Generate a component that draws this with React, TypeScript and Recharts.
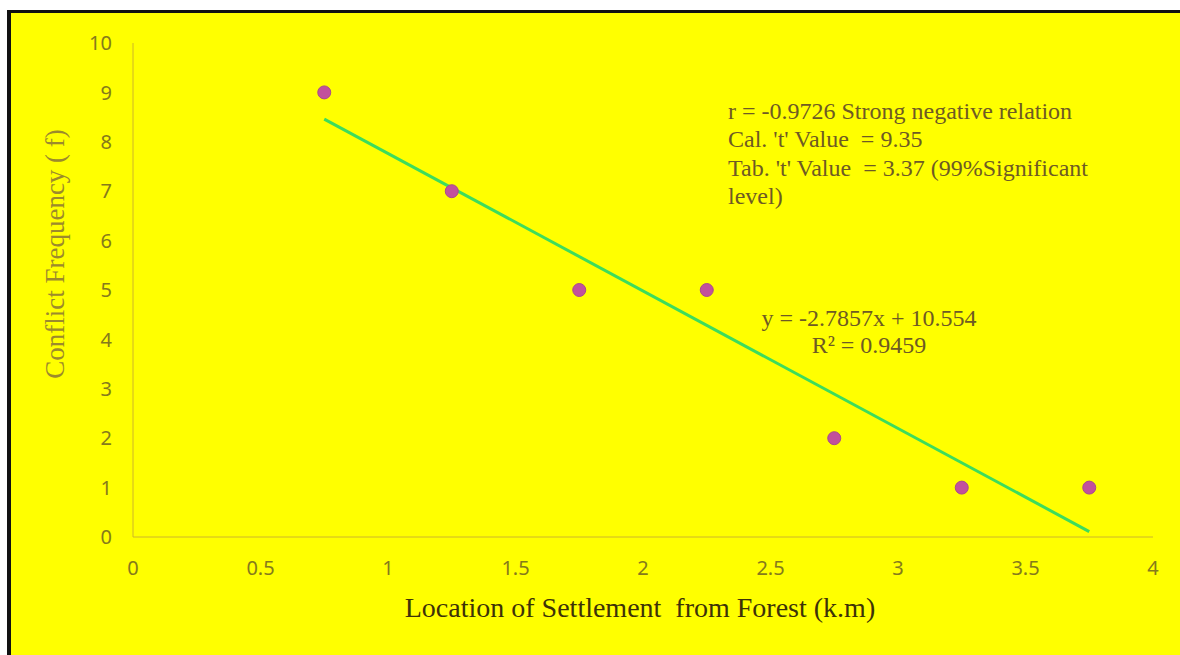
import { ScatterChart, Scatter, XAxis, YAxis, Label } from "recharts"

// distance of settlement from forest (km) and conflict frequency
const distances = [0.75, 1.25, 1.75, 2.25, 2.75, 3.25, 3.75]
const conflicts = [9, 7, 5, 5, 2, 1, 1]

// linear trend endpoints as drawn
const trendX = [0.75, 3.75]
const trendY = [8.46, 0.11]

const xTicks = [0, 0.5, 1, 1.5, 2, 2.5, 3, 3.5, 4]
const yTicks = [0, 1, 2, 3, 4, 5, 6, 7, 8, 9, 10]

const statLines = [
  "r = -0.9726 Strong negative relation",
  "Cal. 't' Value  = 9.35",
  "Tab. 't' Value  = 3.37 (99%Significant",
  "level)",
]
const equation = "y = -2.7857x + 10.554"
const rSquared = "R² = 0.9459"

const points = distances.map((x, i) => ({ x, y: conflicts[i] }))
const trend = trendX.map((x, i) => ({ x, y: trendY[i] }))

const tickStyle = { fill: "#857a1c", fontSize: 20, fontFamily: "'Noto Sans', sans-serif" }
const noteColor = "#6e5a24"
const serif = "'Liberation Serif', 'Times New Roman', serif"

export default function App() {
  return (
    <div
      style={{
        position: "absolute",
        left: 7,
        top: 10,
        width: 1173,
        height: 645,
        background: "#ffff00",
        borderTop: "3px solid #111",
        borderLeft: "4px solid #111",
      }}
    >
      <ScatterChart width={1169} height={642} margin={{ top: 30, right: 27, left: 0, bottom: 48 }}>
        <XAxis
          type="number"
          dataKey="x"
          domain={[0, 4]}
          ticks={xTicks}
          height={70}
          tickSize={0}
          tickMargin={24}
          stroke="#cdb62a"
          tick={tickStyle}
        >
          <Label
            content={({ viewBox }: any) => (
              <text
                x={viewBox.x + viewBox.width / 2 - 3}
                y={viewBox.y + 70}
                textAnchor="middle"
                dominantBaseline="central"
                fill="#3d3208"
                fontSize={28}
                fontFamily={serif}
                style={{ whiteSpace: "pre" }}
              >
                Location of Settlement  from Forest (k.m)
              </text>
            )}
          />
        </XAxis>
        <YAxis
          type="number"
          dataKey="y"
          domain={[0, 10]}
          ticks={yTicks}
          width={122}
          tickSize={0}
          tickMargin={21}
          stroke="#cdb62a"
          tick={tickStyle}
        >
          <Label
            content={({ viewBox }: any) => {
              const cx = viewBox.x + 44
              const cy = viewBox.y + 211
              return (
                <text
                  x={cx}
                  y={cy}
                  transform={`rotate(-90 ${cx} ${cy})`}
                  textAnchor="middle"
                  dominantBaseline="central"
                  fill="#9c8a2c"
                  fontSize={27}
                  fontFamily={serif}
                >
                  Conflict Frequency ( f)
                </text>
              )
            }}
          />
        </YAxis>
        <Scatter
          data={trend}
          line={{ stroke: "#3ddc5c", strokeWidth: 3 }}
          shape={() => <g />}
          isAnimationActive={false}
        />
        <Scatter
          data={points}
          fill="#c2509c"
          shape={(p: any) => <circle cx={p.cx} cy={p.cy} r={6.5} fill="#c2509c" stroke="#a84a8c" strokeWidth={1} />}
          isAnimationActive={false}
        />
        <g fontFamily={serif} fontSize={24} fill={noteColor}>
          {statLines.map((t, i) => (
            <text key={t} x={717} y={98 + i * 28.3} dominantBaseline="central" style={{ whiteSpace: "pre" }}>
              {t}
            </text>
          ))}
          <text x={858} y={305} textAnchor="middle" dominantBaseline="central">
            {equation}
          </text>
          <text x={858} y={332} textAnchor="middle" dominantBaseline="central">
            {rSquared}
          </text>
        </g>
      </ScatterChart>
    </div>
  )
}
